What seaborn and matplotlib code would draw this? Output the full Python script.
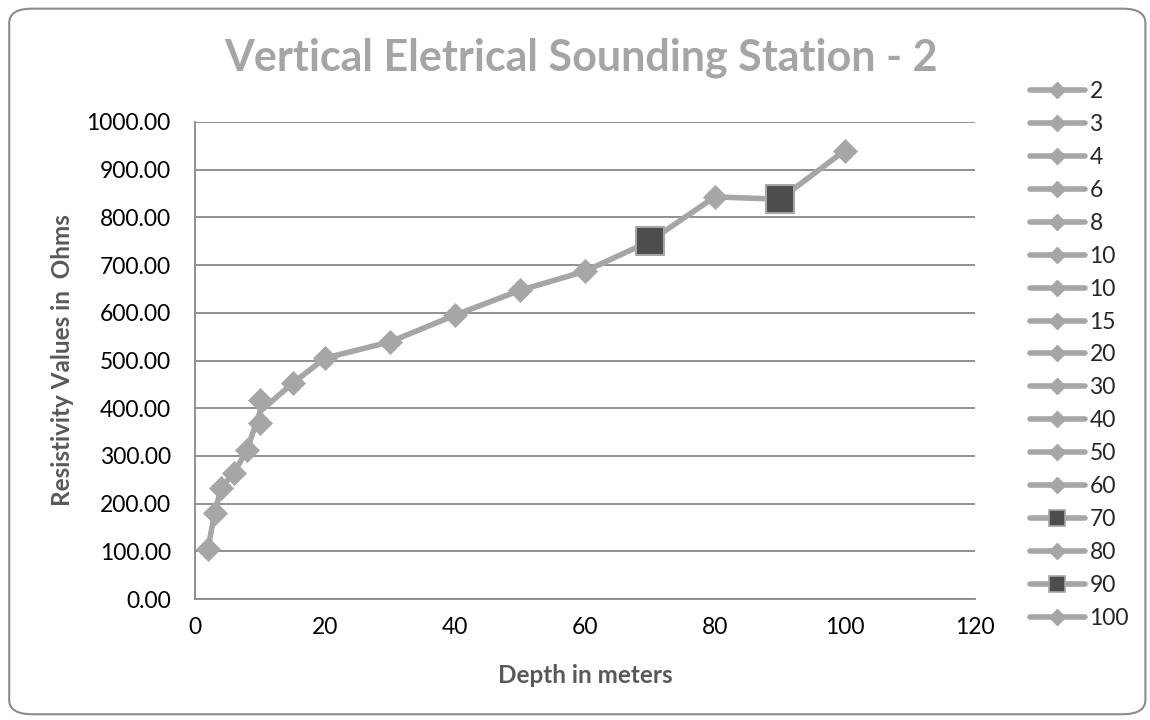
import matplotlib
matplotlib.use("Agg")
import matplotlib.pyplot as plt
from matplotlib.lines import Line2D
from matplotlib.patches import FancyBboxPatch
from matplotlib.ticker import FormatStrFormatter, MultipleLocator
import seaborn as sns
import pandas as pd

# Sounding readings: depth (m) and apparent resistivity (Ohm)
depth = [2, 3, 4, 6, 8, 10, 10, 15, 20, 30, 40, 50, 60, 70, 80, 90, 100]
resistivity = [105, 180, 232, 265, 312, 369, 417, 452, 505, 539, 595, 647,
               687, 750, 843, 838, 940]
depth_labels = ["2", "3", "4", "6", "8", "10", "10", "15", "20", "30", "40",
                "50", "60", "70", "80", "90", "100"]
highlighted = ["70", "90"]

df = pd.DataFrame({"depth": depth, "res": resistivity, "label": depth_labels})
df["kind"] = ["square" if l in highlighted else "diamond" for l in df["label"]]

sns.set_theme(style="white")
plt.rcParams["font.family"] = ["Lato", "DejaVu Sans"]

LINE = "#A6A6A6"
DARK = "#4D4D4D"
GRID = "#888888"
LABEL = "#595959"

fig = plt.figure(figsize=(11.5, 7.2), dpi=100)
ax = fig.add_axes([0.1696, 0.168, 0.678, 0.6626])

sns.lineplot(data=df, x="depth", y="res", sort=False, color=LINE, lw=4,
             ax=ax, zorder=2)
sns.scatterplot(data=df[df["kind"] == "diamond"], x="depth", y="res",
                marker="D", s=150, color=LINE, edgecolor=LINE, linewidth=0.5,
                ax=ax, zorder=3)
sns.scatterplot(data=df[df["kind"] == "square"], x="depth", y="res",
                marker="s", s=420, color=DARK, edgecolor=LINE, linewidth=1.5,
                ax=ax, zorder=4)

ax.set_xlim(0, 120)
ax.set_ylim(0, 1000)
ax.xaxis.set_major_locator(MultipleLocator(20))
ax.yaxis.set_major_locator(MultipleLocator(100))
ax.yaxis.set_major_formatter(FormatStrFormatter("%.2f"))
ax.grid(axis="y", color=GRID, lw=1.3)
ax.grid(axis="x", visible=False)
ax.set_axisbelow(True)
for side in ("top", "right"):
    ax.spines[side].set_visible(False)
for side in ("left", "bottom"):
    ax.spines[side].set_color(GRID)
    ax.spines[side].set_linewidth(1.3)
ax.tick_params(axis="y", which="major", length=6.5, width=1.3, color=GRID,
               direction="out", labelsize=16.5, labelcolor="black", pad=11)
ax.tick_params(axis="x", which="major", length=5, width=1.3, color=GRID,
               direction="out", labelsize=16.5, labelcolor="black", pad=8)
ax.set_xlabel("Depth in meters", fontsize=17.5, fontweight="bold",
              color=LABEL, labelpad=19)
ax.set_ylabel("Resistivity Values in  Ohms", fontsize=17.5, fontweight="bold",
              color=LABEL, labelpad=9)

fig.text(0.505, 1 - 70 / 720, "Vertical Eletrical Sounding Station - 2",
         ha="center", va="baseline", fontsize=31, fontweight="bold",
         color="#A5A5A5")

# one legend entry per reading
handles = []
for lab in depth_labels:
    if lab in highlighted:
        h = Line2D([], [], color=LINE, lw=4, marker="s", markersize=12,
                   markerfacecolor=DARK, markeredgecolor=LINE,
                   markeredgewidth=1.2)
    else:
        h = Line2D([], [], color=LINE, lw=4, marker="D", markersize=8,
                   markerfacecolor=LINE, markeredgecolor=LINE)
    handles.append(h)
fig.legend(handles, depth_labels, loc="upper left",
           bbox_to_anchor=(0.8876, 0.90), frameon=False, fontsize=16.5,
           handlelength=2.4, handletextpad=0.2, labelspacing=0.52,
           borderaxespad=0)

frame = FancyBboxPatch((0.008, 0.008), 0.988, 0.98,
                       boxstyle="round,pad=0,rounding_size=0.02",
                       transform=fig.transFigure, fill=False,
                       edgecolor="#8C8C8C", lw=1.5)
fig.patches.append(frame)

fig.savefig("out.png", dpi=100)
